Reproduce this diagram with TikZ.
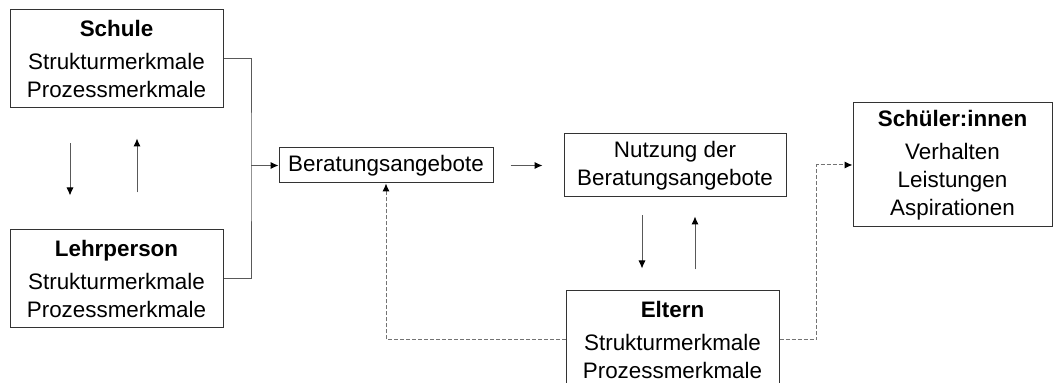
\documentclass[tikz,border=0pt]{standalone}
\usepackage{fontspec}
\setmainfont{Liberation Sans}
\usetikzlibrary{positioning,arrows.meta}
\tikzset{
  bx/.style={rectangle, draw=black!80, line width=0.5pt, align=center, inner sep=0pt, fill=white},
  ln/.style={draw=black!65, line width=0.5pt},
  ar/.style={ln, -{Latex[length=4pt,width=3.6pt,color=black]}},
  da/.style={draw=black!55, line width=0.5pt, dash pattern=on 2pt off 1pt, -{Latex[length=4pt,width=3.6pt,color=black]}}
}
\newcommand{\hd}[1]{{\bfseries #1}\\[2.5pt]}

\begin{document}
\begin{tikzpicture}[x=0.5pt, y=-0.5pt, font=\fontsize{11.2}{14}\selectfont]
	\useasboundingbox (0,0) rectangle (1057,383);
	% boxes
	\node[bx, minimum width=106.5pt, minimum height=49pt] (schule) at (116.5,59) {\hd{Schule}Strukturmerkmale\\Prozessmerkmale};
	\node[bx, minimum width=106.5pt, minimum height=49pt] (lehrer) at (116.5,279) {\hd{Lehrperson}Strukturmerkmale\\Prozessmerkmale};
	\node[bx, minimum width=107pt, minimum height=17.5pt] (angebot) at (386,165.5) {Beratungsangebote};
	\node[bx, minimum width=111pt, minimum height=31.5pt] (nutzung) at (675,165.5) {Nutzung der\\Beratungsangebote};
	\node[bx, minimum width=106.5pt, minimum height=49pt] (eltern) at (672.5,340) {\hd{Eltern}Strukturmerkmale\\Prozessmerkmale};
	\node[bx, minimum width=99.5pt, minimum height=62pt] (schueler) at (952.5,165) {\hd{Schüler:innen}Verhalten\\Leistungen\\Aspirationen};
	\coordinate (knick) at (251,165.5);

	% connectors
	\draw[ln] (schule.east) -| (knick) |- (lehrer.east);
	\draw[ar] (knick) -- (angebot.west);
	\draw[ar, shorten <=8.5pt, shorten >=10.5pt] (angebot) -- (nutzung);
	\draw[ar, shorten <=17.5pt, shorten >=17pt] ([xshift=-23.25pt]schule.south) -- ([xshift=-23.25pt]lehrer.north);
	\draw[ar, shorten <=18.5pt, shorten >=15pt] ([xshift=10.25pt]lehrer.north) -- ([xshift=10.25pt]schule.south);
	\draw[ar, shorten <=9pt, shorten >=11pt] ([xshift=-16.5pt]nutzung.south) -- ([xshift=-15.25pt]eltern.north);
	\draw[ar, shorten <=10.5pt, shorten >=9.5pt] ([xshift=11.25pt]eltern.north) -- ([xshift=10pt]nutzung.south);
	\draw[da] (eltern.west) -| (angebot.south);
	\draw[da] (eltern.east) -- ++(37,0) |- (schueler.west);
\end{tikzpicture}
\end{document}
